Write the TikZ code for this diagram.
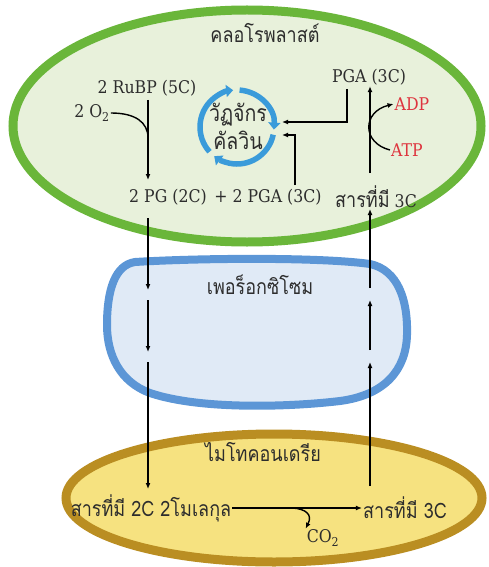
\documentclass[tikz,border=0pt]{standalone}
\usepackage{fontspec}
\setmainfont{DejaVu Serif}[FakeStretch=0.9]
\newfontfamily\thai[Script=Thai,FakeStretch=0.85]{Loma}
\usetikzlibrary{arrows.meta,positioning,calc}
\definecolor{chloroGreen}{RGB}{106,182,58}
\definecolor{chloroFill} {RGB}{232,241,219}
\definecolor{peroxBlue}  {RGB}{ 92,150,214}
\definecolor{peroxFill}  {RGB}{224,234,246}
\definecolor{mitoGold}   {RGB}{186,142, 34}
\definecolor{mitoFill}   {RGB}{246,226,128}
\definecolor{calvinBlue} {RGB}{ 58,155,218}
\definecolor{atpRed}     {RGB}{222, 52, 62}
\definecolor{inkGray}    {RGB}{ 45, 45, 45}

\begin{document}
\begin{tikzpicture}[x=1pt,y=-1pt,
    lbl/.style={inner sep=1pt,text=inkGray,font=\fontsize{17.5}{19}\selectfont},
    tlbl/.style={inner sep=1pt,text=inkGray,font=\fontsize{21.2}{23}\selectfont\thai},
    arr/.style={-{Latex[length=6pt,width=5pt]},line width=1.4pt},
    cyc/.style={-{Triangle[length=7pt,width=12pt]},calvinBlue,line width=5.5pt}]
  \useasboundingbox (0,0) rectangle (488,567);
  % compartments
  \filldraw[fill=chloroFill,draw=chloroGreen,line width=9pt]
    (247,126) ellipse [x radius=234,y radius=116];
  \filldraw[fill=peroxFill,draw=peroxBlue,line width=8pt]
    (135,262) .. controls (200,258) and (320,257) .. (370,264)
    .. controls (398,270) and (408,300) .. (407,335)
    .. controls (406,370) and (385,395) .. (340,401)
    .. controls (290,407) and (200,410) .. (150,393)
    .. controls (120,382) and (107,355) .. (107,325)
    .. controls (107,290) and (115,265) .. (135,262) -- cycle;
  \filldraw[fill=mitoFill,draw=mitoGold,line width=9pt]
    (274,498) ellipse [x radius=208,y radius=64];

  % chloroplast
  \node[tlbl] (chloro) at (265,33) {คลอโรพลาสต์};
  \node[lbl] (rubp) at (147,88) {2 RuBP (5C)};
  \node[lbl] (otwo) at (92,113) {2 O\textsubscript{2}};
  \node[lbl] (pg) at (168,197) {2 PG (2C)};
  \node[lbl] (pgab) at (268,197) {+ 2 PGA (3C)};
  \node[lbl] (sar3t) at (376,197) {{\fontsize{21.2}{23}\selectfont\thai สารที่มี} 3C};
  \node[lbl] (pgat) at (369,77) {PGA (3C)};
  \node[lbl,text=atpRed] (adp) at (412,104) {ADP};
  \node[lbl,text=atpRed] (atp) at (407,150) {ATP};
  \node[tlbl,align=center,font=\fontsize{23}{28}\selectfont\thai] (calvin) at (238,126)
    {วัฏจักร\\คัลวิน};
  \draw[cyc] ([shift={(138:37)}]237,127) arc [start angle=138,end angle=264,radius=37];
  \draw[cyc] ([shift={(-86:37)}]237,127) arc [start angle=-86,end angle=4,radius=37];
  \draw[cyc] ([shift={(12:37)}]237,127) arc [start angle=12,end angle=128,radius=37];

  \coordinate (rubpout) at (148,100);
  \coordinate (pgin) at (148,180);
  \coordinate (otwojoin) at (148,138);
  \coordinate (pgatout) at (347,89);
  \coordinate (pgabout) at (295,185);
  \coordinate (cin1) at (282,122);
  \coordinate (cin2) at (282,135);
  \coordinate (sar3tout) at (370,173);
  \draw[arr] (rubpout) -- (pgin);
  \draw[line width=1.4pt] (otwo.east) .. controls (135,113) and (148,122) .. (otwojoin);
  \draw[arr] (pgatout) |- (cin1);
  \draw[arr] (pgabout) |- (cin2);
  \draw[arr] (sar3tout) -- (pgat.south -| sar3tout);
  \draw[arr] (atp.west) .. controls (362,143) and (362,112) .. (adp.west);

  % peroxisome
  \node[tlbl] (perox) at (260,285) {เพอร็อกซิโซม};

  % mitochondrion
  \node[tlbl] (mito) at (263,452) {ไมโทคอนเดรีย};
  \node[tlbl] (sar2) at (151,508) {สารที่มี 2C 2โมเลกุล};
  \node[tlbl] (sar3b) at (405,508) {สารที่มี 3C};
  \node[lbl] (co2) at (323,538) {CO\textsubscript{2}};
  \coordinate (co2fork) at (293,508);
  \draw[arr] (sar2) -- (sar3b);
  \draw[arr] (co2fork) .. controls (305,509) and (313,514) .. (co2.north west);

  % links between compartments
  \coordinate (l0) at (148,218);
  \coordinate (l1) at (148,290);
  \coordinate (l2) at (148,300);
  \coordinate (l3) at (148,352);
  \coordinate (l4) at (148,362);
  \coordinate (l5) at (148,489);
  \draw[arr] (l0) -- (l1);
  \draw[arr] (l2) -- (l3);
  \draw[arr] (l4) -- (l5);
  \coordinate (r0) at (370,486);
  \coordinate (r1) at (370,362);
  \coordinate (r2) at (370,350);
  \coordinate (r3) at (370,300);
  \coordinate (r4) at (370,288);
  \coordinate (r5) at (370,209);
  \draw[arr] (r0) -- (r1);
  \draw[arr] (r2) -- (r3);
  \draw[arr] (r4) -- (r5);
\end{tikzpicture}
\end{document}
